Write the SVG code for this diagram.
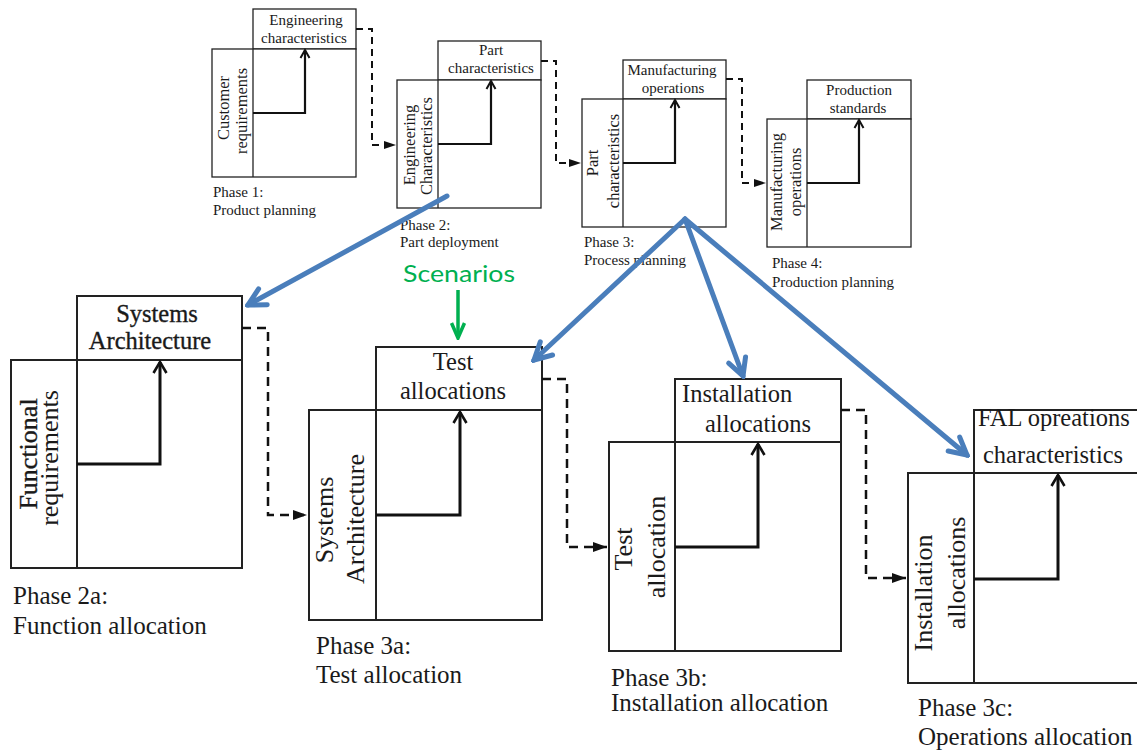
<svg xmlns="http://www.w3.org/2000/svg" width="1137" height="751" viewBox="0 0 1137 751">
  <defs>
    <style>
      .box { fill: #ffffff; stroke: #222222; }
      .sm .box, .sm .div { stroke-width: 1.3; }
      .lg .box, .lg .div { stroke-width: 2; }
      .div { stroke: #222222; fill: none; }
      .flow { fill: none; stroke: #111111; stroke-linejoin: miter; }
      .sm .flow { stroke-width: 2.2; }
      .lg .flow { stroke-width: 3; }
      .dash { fill: none; stroke: #111111; }
      .dash.sm { stroke-width: 2; stroke-dasharray: 7 5; }
      .dash.lg { stroke-width: 2.5; stroke-dasharray: 9 6; }
      .blue { fill: none; stroke: #4a7ebb; stroke-width: 5; stroke-linecap: round; }
      .serif text { font-family: "Liberation Serif", "Times New Roman", serif; fill: #1a1a1a; }
      .sm text.hd { font-size: 15px; text-anchor: middle; }
      .sm text.vt { font-size: 16.5px; text-anchor: middle; }
      .sm text.ph { font-size: 15px; }
      .lg text.hd { font-size: 24.5px; }
      .lg text.vt { font-size: 26px; text-anchor: middle; }
      .lg text.ph { font-size: 25px; }
      .heavy { stroke: #1a1a1a; stroke-width: 0.35; }
    </style>
    <marker id="openHeadSm" viewBox="0 0 12 12" refX="10" refY="6" markerWidth="12" markerHeight="12" markerUnits="userSpaceOnUse" orient="auto">
      <path d="M2,1.5 L10,6 L2,10.5" fill="none" stroke="#111" stroke-width="2"/>
    </marker>
    <marker id="openHeadLg" viewBox="0 0 16 16" refX="14" refY="8" markerWidth="16" markerHeight="16" markerUnits="userSpaceOnUse" orient="auto">
      <path d="M3,1.5 L14,8 L3,14.5" fill="none" stroke="#111" stroke-width="2.6"/>
    </marker>
    <marker id="solidHeadSm" viewBox="0 0 12 10" refX="12" refY="5" markerWidth="12" markerHeight="10" markerUnits="userSpaceOnUse" orient="auto">
      <path d="M0,1 L12,5 L0,9 z" fill="#111"/>
    </marker>
    <marker id="solidHeadLg" viewBox="0 0 14 12" refX="14" refY="6" markerWidth="14" markerHeight="12" markerUnits="userSpaceOnUse" orient="auto">
      <path d="M0,1 L14,6 L0,11 z" fill="#111"/>
    </marker>
    <marker id="blueHead" viewBox="0 0 24 24" refX="21" refY="12" markerWidth="24" markerHeight="24" markerUnits="userSpaceOnUse" orient="auto">
      <path d="M4,3 L21,12 L4,21" fill="none" stroke="#4a7ebb" stroke-width="5" stroke-linecap="round" stroke-linejoin="miter"/>
    </marker>
    <marker id="greenHead" viewBox="0 0 20 16" refX="18" refY="8" markerWidth="20" markerHeight="16" markerUnits="userSpaceOnUse" orient="auto">
      <path d="M3,1.5 L18,8 L3,14.5" fill="none" stroke="#00b050" stroke-width="3.5"/>
    </marker>
  </defs>

  <!-- Phase 1: product planning -->
  <g id="phase1" class="sm serif">
    <rect class="box" x="253" y="9" width="103" height="40"/>
    <rect class="box" x="212" y="49" width="144" height="128"/>
    <line class="div" x1="253" y1="49" x2="253" y2="177"/>
    <path class="flow" d="M253,113 H305 V50" marker-end="url(#openHeadSm)"/>
    <text class="hd" x="306" y="25">Engineering</text>
    <text class="hd" x="304" y="43">characteristics</text>
    <text class="vt" transform="translate(229,108) rotate(-90)">Customer</text>
    <text class="vt" transform="translate(247,111) rotate(-90)">requirements</text>
    <text class="ph" x="213" y="197">Phase 1:</text>
    <text class="ph" x="213" y="215">Product planning</text>
  </g>

  <!-- Phase 2: part deployment -->
  <g id="phase2" class="sm serif">
    <rect class="box" x="438" y="41" width="103" height="39"/>
    <rect class="box" x="397" y="80" width="144" height="128"/>
    <line class="div" x1="438" y1="80" x2="438" y2="208"/>
    <path class="flow" d="M438,144 H491 V81" marker-end="url(#openHeadSm)"/>
    <text class="hd" x="491" y="55">Part</text>
    <text class="hd" x="491" y="73">characteristics</text>
    <text class="vt" transform="translate(415,145) rotate(-90)">Engineering</text>
    <text class="vt" transform="translate(432,146) rotate(-90)">Characteristics</text>
    <text class="ph" x="400" y="230">Phase 2:</text>
    <text class="ph" x="400" y="247">Part deployment</text>
  </g>

  <!-- Phase 3: process planning -->
  <g id="phase3" class="sm serif">
    <rect class="box" x="623" y="60" width="103" height="39"/>
    <rect class="box" x="582" y="99" width="144" height="128"/>
    <line class="div" x1="623" y1="99" x2="623" y2="227"/>
    <path class="flow" d="M623,163 H675 V100" marker-end="url(#openHeadSm)"/>
    <text class="hd" x="672" y="75">Manufacturing</text>
    <text class="hd" x="673" y="93">operations</text>
    <text class="vt" transform="translate(598,163) rotate(-90)">Part</text>
    <text class="vt" transform="translate(619,161) rotate(-90)">characteristics</text>
    <text class="ph" x="584" y="247">Phase 3:</text>
    <text class="ph" x="584" y="265">Process planning</text>
  </g>

  <!-- Phase 4: production planning -->
  <g id="phase4" class="sm serif">
    <rect class="box" x="807" y="80" width="104" height="39"/>
    <rect class="box" x="767" y="119" width="144" height="128"/>
    <line class="div" x1="807" y1="119" x2="807" y2="247"/>
    <path class="flow" d="M807,183 H859 V120" marker-end="url(#openHeadSm)"/>
    <text class="hd" x="859" y="95">Production</text>
    <text class="hd" x="858" y="113">standards</text>
    <text class="vt" transform="translate(782,182) rotate(-90)">Manufacturing</text>
    <text class="vt" transform="translate(801,182) rotate(-90)">operations</text>
    <text class="ph" x="772" y="268">Phase 4:</text>
    <text class="ph" x="772" y="287">Production planning</text>
  </g>

  <!-- Phase 2a: function allocation -->
  <g id="phase2a" class="lg serif">
    <rect class="box" x="77" y="296" width="165" height="64"/>
    <rect class="box" x="11" y="360" width="231" height="208"/>
    <line class="div" x1="77" y1="360" x2="77" y2="568"/>
    <path class="flow" d="M77,464 H160 V362" marker-end="url(#openHeadLg)"/>
    <text class="hd heavy" x="157" y="322" text-anchor="middle">Systems</text>
    <text class="hd heavy" x="150" y="349" text-anchor="middle">Architecture</text>
    <text class="vt heavy" transform="translate(37,454) rotate(-90)">Functional</text>
    <text class="vt" transform="translate(58,458) rotate(-90)">requirements</text>
    <text class="ph" x="13" y="604">Phase 2a:</text>
    <text class="ph" x="13" y="634">Function allocation</text>
  </g>

  <!-- Phase 3a: test allocation -->
  <g id="phase3a" class="lg serif">
    <rect class="box" x="376" y="347" width="166" height="63"/>
    <rect class="box" x="309" y="410" width="233" height="210"/>
    <line class="div" x1="376" y1="410" x2="376" y2="620"/>
    <path class="flow" d="M376,515 H460 V412" marker-end="url(#openHeadLg)"/>
    <text class="hd" x="453" y="370" text-anchor="middle">Test</text>
    <text class="hd" x="453" y="399" text-anchor="middle">allocations</text>
    <text class="vt" transform="translate(333,520) rotate(-90)">Systems</text>
    <text class="vt" transform="translate(364,519) rotate(-90)">Architecture</text>
    <text class="ph" x="316" y="654">Phase 3a:</text>
    <text class="ph" x="316" y="683">Test allocation</text>
  </g>

  <!-- Phase 3b: installation allocation -->
  <g id="phase3b" class="lg serif">
    <rect class="box" x="675" y="379" width="166" height="63"/>
    <rect class="box" x="609" y="442" width="232" height="209"/>
    <line class="div" x1="675" y1="442" x2="675" y2="651"/>
    <path class="flow" d="M675,547 H758 V444" marker-end="url(#openHeadLg)"/>
    <text class="hd" x="682" y="402">Installation</text>
    <text class="hd" x="705" y="432">allocations</text>
    <text class="vt" transform="translate(632,549) rotate(-90)">Test</text>
    <text class="vt" transform="translate(665,547) rotate(-90)">allocation</text>
    <text class="ph" x="611" y="686">Phase 3b:</text>
    <text class="ph" x="611" y="711">Installation allocation</text>
  </g>

  <!-- Phase 3c: operations allocation -->
  <g id="phase3c" class="lg serif">
    <rect class="box" x="974" y="410" width="167" height="63"/>
    <rect class="box" x="908" y="473" width="233" height="210"/>
    <line class="div" x1="974" y1="473" x2="974" y2="683"/>
    <path class="flow" d="M974,579 H1058 V475" marker-end="url(#openHeadLg)"/>
    <text class="hd" x="978" y="426">FAL opreations</text>
    <text class="hd" x="983" y="463">characteristics</text>
    <text class="vt" transform="translate(932,593) rotate(-90)">Installation</text>
    <text class="vt" transform="translate(965,573) rotate(-90)">allocations</text>
    <text class="ph" x="918" y="716">Phase 3c:</text>
    <text class="ph" x="918" y="745">Operations allocation</text>
  </g>

  <!-- Scenarios input -->
  <g id="scenarios">
    <text x="459" y="282" text-anchor="middle" font-family="Lato, 'Open Sans', sans-serif" font-size="23" fill="#00b050" textLength="112" lengthAdjust="spacingAndGlyphs">Scenarios</text>
  </g>

  <!-- Connectors -->
  <g id="connectors">
    <path class="dash sm" d="M356,29 H372 V145 H396" marker-end="url(#solidHeadSm)"/>
    <path class="dash sm" d="M541,61 H556 V163 H581" marker-end="url(#solidHeadSm)"/>
    <path class="dash sm" d="M726,79 H742 V183 H766" marker-end="url(#solidHeadSm)"/>
    <path class="dash lg" d="M242,328 H268 V515 H307" marker-end="url(#solidHeadLg)"/>
    <path class="dash lg" d="M542,379 H567 V547 H607" marker-end="url(#solidHeadLg)"/>
    <path class="dash lg" d="M841,410 H866 V578 H906" marker-end="url(#solidHeadLg)"/>

    <line class="blue" x1="447" y1="196" x2="248" y2="305" marker-end="url(#blueHead)"/>
    <line class="blue" x1="685" y1="219" x2="534" y2="360" marker-end="url(#blueHead)"/>
    <line class="blue" x1="685" y1="219" x2="743" y2="376" marker-end="url(#blueHead)"/>
    <line class="blue" x1="685" y1="219" x2="967" y2="455" marker-end="url(#blueHead)"/>

    <line x1="458" y1="290" x2="458" y2="338" stroke="#00b050" stroke-width="3.5" marker-end="url(#greenHead)"/>
  </g>
</svg>
